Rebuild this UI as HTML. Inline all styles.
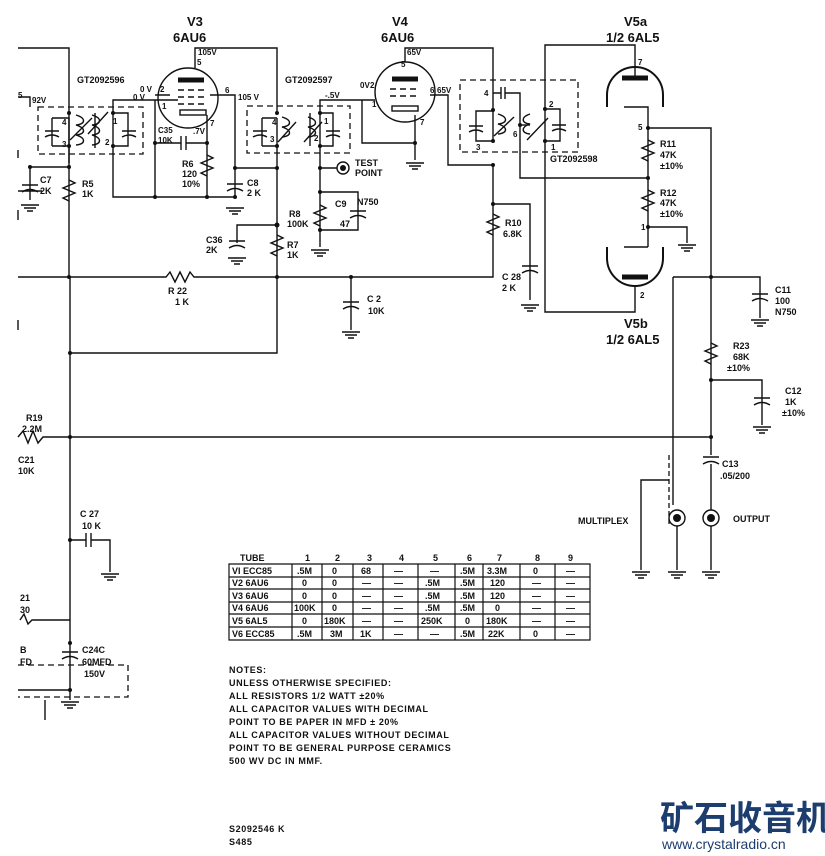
<!DOCTYPE html>
<html><head><meta charset="utf-8"><style>
html,body{margin:0;padding:0;background:#fff;}
svg{display:block;}
text{font-family:"Liberation Sans",sans-serif;fill:#111;font-weight:bold;}
.s{font-size:8px;}
.m{font-size:9px;}
.l{font-size:13px;}
.w{stroke:#111;stroke-width:1.4;fill:none;}
.d{stroke:#111;stroke-width:1.3;fill:none;stroke-dasharray:6,4;}
.n{fill:#111;}
</style></head><body>
<svg width="825" height="856" viewBox="0 0 825 856" xmlns="http://www.w3.org/2000/svg">
<defs>
<g id="gnd"><path class="w" d="M-9,0h18M-6,3h12M-3,6h6"/></g>
<g id="capv"><path class="w" d="M-8,-2h16M-8,5q8,-5 16,0"/></g>
</defs>

<!-- Tube labels -->
<text x="187" y="26" class="l">V3</text><text x="173" y="42" class="l">6AU6</text>
<text x="392" y="26" class="l">V4</text><text x="381" y="42" class="l">6AU6</text>
<text x="624" y="26" class="l">V5a</text><text x="606" y="42" class="l">1/2 6AL5</text>
<text x="624" y="328" class="l">V5b</text><text x="606" y="344" class="l">1/2 6AL5</text>

<!-- top left wire -->
<path class="w" d="M18,48H69V163"/>
<path class="w" d="M18,97H30V107"/>
<text x="18" y="98" class="s">5</text><text x="32" y="103" class="s">92V</text>

<!-- GT2092596 box -->
<text x="77" y="83" class="m">GT2092596</text>
<rect x="38" y="107" width="105" height="47" class="d"/>
<path class="w" d="M52,118h17M52,146h17M52,118v28M69,118v28M95,113v35"/>
<path class="w" d="M45,131h14M45,137q7,-4 14,0"/>
<path class="w" d="M76,115c10,3 10,9 0,10c10,3 10,9 0,10c10,3 10,9 0,10"/>
<path class="w" d="M92,115c10,3 10,9 0,10c10,3 10,9 0,10c10,3 10,9 0,10"/>
<path class="w" d="M70,140L92,118M88,134L108,112"/>
<path class="w" d="M113,113h15v33h-15M113,113v33M122,131h14M122,137q7,-4 14,0"/>
<text x="62" y="125" class="s">4</text><text x="62" y="147" class="s">3</text>
<text x="113" y="124" class="s">1</text><text x="105" y="145" class="s">2</text>
<circle cx="69" cy="113" r="2" class="n"/><circle cx="69" cy="146" r="2" class="n"/>
<circle cx="113" cy="113" r="2" class="n"/><circle cx="113" cy="146" r="2" class="n"/>
<path class="w" d="M69,146V277M30,167H69"/>
<circle cx="69" cy="167" r="2" class="n"/><circle cx="30" cy="167" r="2" class="n"/>
<path class="w" d="M69,180l6,3l-12,5l12,5l-12,5l6,3"/>
<text x="82" y="187" class="m">R5</text><text x="82" y="197" class="m">1K</text>
<path class="w" d="M30,167V200"/><use href="#capv" x="30" y="187"/><use href="#gnd" x="30" y="205"/>
<path class="w" d="M18,191h24"/>
<text x="40" y="183" class="m">C7</text><text x="40" y="194" class="m">2K</text>

<!-- V3 -->
<circle cx="188" cy="98" r="30" class="w"/>
<path class="w" d="M178,80h26" style="stroke-width:5"/>
<path class="w" d="M178,90h6M188,90h6M198,90h6M178,97h6M188,97h6M198,97h6M178,104h6M188,104h6M198,104h6"/>
<rect x="180" y="110" width="26" height="5" class="w"/>
<path class="w" d="M195,68V48H277V113"/>
<text x="198" y="55" class="s">105V</text><text x="197" y="65" class="s">5</text>
<path class="w" d="M113,113V100H178M155,95H170"/>
<text x="140" y="92" class="s">0 V</text><text x="160" y="92" class="s">2</text>
<text x="133" y="100" class="s">0 V</text><text x="162" y="109" class="s">1</text>
<path class="w" d="M210,95H235V197"/>
<text x="225" y="93" class="s">6</text><text x="238" y="100" class="s">105 V</text>
<path class="w" d="M207,115V197M155,100V197M113,146V197H235"/>
<circle cx="155" cy="143" r="2" class="n"/><circle cx="207" cy="143" r="2" class="n"/>
<circle cx="155" cy="197" r="2" class="n"/><circle cx="207" cy="197" r="2" class="n"/><circle cx="235" cy="197" r="2" class="n"/>
<path class="w" d="M155,143H181M181,136v14M186,136v14M186,143H207"/>
<text x="158" y="133" class="s">C35</text><text x="158" y="143" class="s">10K</text>
<text x="193" y="134" class="s">.7V</text><text x="210" y="126" class="s">7</text>
<path class="w" d="M207,155l6,3l-12,5l12,5l-12,5l6,3"/>
<text x="182" y="167" class="m">R6</text><text x="182" y="177" class="m">120</text><text x="182" y="187" class="m">10%</text>
<path class="w" d="M235,168H277"/><circle cx="235" cy="168" r="2" class="n"/><circle cx="277" cy="168" r="2" class="n"/>
<use href="#capv" x="235" y="186"/><use href="#gnd" x="235" y="208"/>
<text x="247" y="186" class="m">C8</text><text x="247" y="196" class="m">2 K</text>

<!-- GT2092597 -->
<text x="285" y="83" class="m">GT2092597</text>
<rect x="247" y="106" width="103" height="47" class="d"/>
<path class="w" d="M262,118h15M262,146h15M262,118v28M277,118v28M310,113v33"/>
<path class="w" d="M253,131h14M253,137q7,-4 14,0"/>
<path class="w" d="M282,117c10,3 10,9 0,10c10,3 10,9 0,10"/>
<path class="w" d="M308,117c10,3 10,9 0,10c10,3 10,9 0,10"/>
<path class="w" d="M278,142L296,122M304,142L322,122"/>
<path class="w" d="M320,113h13v33h-13M320,113v33M326,131h14M326,137q7,-4 14,0"/>
<text x="272" y="125" class="s">4</text><text x="270" y="142" class="s">3</text>
<text x="324" y="124" class="s">1</text><text x="314" y="141" class="s">2</text>
<circle cx="277" cy="113" r="2" class="n"/><circle cx="277" cy="146" r="2" class="n"/>
<circle cx="320" cy="113" r="2" class="n"/><circle cx="320" cy="146" r="2" class="n"/>
<path class="w" d="M320,113V100H375"/><text x="325" y="98" class="s">-.5V</text>
<path class="w" d="M277,146V353H70"/>
<path class="w" d="M320,146V247M320,168H337M320,192H358V230H320"/>
<circle cx="320" cy="168" r="2" class="n"/><circle cx="320" cy="192" r="2" class="n"/><circle cx="320" cy="230" r="2" class="n"/>
<circle cx="343" cy="168" r="6" class="w"/><circle cx="343" cy="168" r="3" class="n"/>
<text x="355" y="166" class="m">TEST</text><text x="355" y="176" class="m">POINT</text>
<path class="w" d="M320,205l6,3l-12,5l12,5l-12,5l6,3"/>
<text x="289" y="217" class="m">R8</text><text x="287" y="227" class="m">100K</text>
<path class="w" d="M350,211h16M350,218q8,-5 16,0"/>
<text x="335" y="207" class="m">C9</text><text x="357" y="205" class="m">N750</text><text x="340" y="227" class="m">47</text>
<use href="#gnd" x="320" y="250"/>
<circle cx="277" cy="225" r="2.5" class="n"/><path class="w" d="M277,225H237V243"/>
<use href="#capv" x="237" y="243"/><use href="#gnd" x="237" y="258"/>
<text x="206" y="243" class="m">C36</text><text x="206" y="253" class="m">2K</text>
<path class="w" d="M277,235l6,3l-12,5l12,5l-12,5l6,3"/>
<text x="287" y="248" class="m">R7</text><text x="287" y="258" class="m">1K</text>

<!-- R22 line -->
<path class="w" d="M18,277H166l4,-5l5,10l5,-10l5,10l5,-10l4,5H493V165"/>
<circle cx="69" cy="277" r="2" class="n"/><circle cx="277" cy="277" r="2" class="n"/><circle cx="351" cy="277" r="2" class="n"/>
<text x="168" y="294" class="m">R 22</text><text x="175" y="305" class="m">1 K</text>
<path class="w" d="M351,277V330"/><use href="#capv" x="351" y="304"/><use href="#gnd" x="351" y="332"/>
<text x="367" y="302" class="m">C 2</text><text x="368" y="314" class="m">10K</text>

<!-- V4 -->
<circle cx="405" cy="92" r="30" class="w"/>
<path class="w" d="M392,79h26" style="stroke-width:5"/>
<path class="w" d="M390,89h6M400,89h6M410,89h6M390,96h6M400,96h6M410,96h6"/>
<rect x="392" y="106" width="26" height="5" class="w"/>
<path class="w" d="M405,62V48H493V110"/>
<text x="407" y="55" class="s">65V</text><text x="401" y="67" class="s">5</text>
<text x="360" y="88" class="s">0V</text><text x="370" y="88" class="s">2</text><text x="372" y="107" class="s">1</text>
<path class="w" d="M362,100V143H415M415,115V160"/><circle cx="415" cy="143" r="2" class="n"/>
<text x="420" y="125" class="s">7</text><use href="#gnd" x="415" y="163"/>
<path class="w" d="M430,95H448V165H493"/>
<text x="430" y="93" class="s">6</text><text x="437" y="93" class="s">65V</text>
<circle cx="493" cy="165" r="2" class="n"/><circle cx="493" cy="204" r="2" class="n"/>
<path class="w" d="M493,214l6,3l-12,5l12,5l-12,5l6,3"/>
<text x="505" y="226" class="m">R10</text><text x="503" y="237" class="m">6.8K</text>
<path class="w" d="M493,204H530V300"/><use href="#capv" x="530" y="268"/><use href="#gnd" x="530" y="305"/>
<text x="502" y="280" class="m">C 28</text><text x="502" y="291" class="m">2 K</text>

<!-- GT2092598 -->
<rect x="460" y="80" width="118" height="72" class="d"/>
<path class="w" d="M493,93h8M501,87v12M505,87v12M505,93h15V178H648"/>
<text x="484" y="96" class="s">4</text>
<path class="w" d="M476,111h17v30h-17zM469,126h14M469,132q7,-4 14,0"/>
<path class="w" d="M498,114c10,3 10,9 0,10c10,3 10,9 0,10"/>
<path class="w" d="M494,136L514,117"/>
<path class="w" d="M520,125h10"/><circle cx="520" cy="125" r="2" class="n"/>
<text x="513" y="137" class="s">6</text><text x="476" y="150" class="s">3</text>
<path class="w" d="M530,114c-9,3 -9,9 0,10c-9,3 -9,9 0,10"/>
<path class="w" d="M527,140L548,118"/>
<path class="w" d="M545,109h15v32h-15M545,109v32M552,125h14M552,131q7,-4 14,0"/>
<circle cx="545" cy="109" r="2" class="n"/><circle cx="545" cy="141" r="2" class="n"/>
<circle cx="493" cy="110" r="2" class="n"/><circle cx="493" cy="141" r="2" class="n"/>
<text x="549" y="107" class="s">2</text><text x="551" y="150" class="s">1</text>
<text x="550" y="162" class="m">GT2092598</text>

<!-- V5 -->
<path class="w" d="M545,109V45H635V78M545,141V312H635V287"/>
<path class="w" d="M607,107V95a28,28 0 0 1 56,0V107" style="stroke-width:2"/>
<path class="w" d="M622,78h26" style="stroke-width:5"/><text x="638" y="65" class="s">7</text>
<path class="w" d="M624,107h24V128M648,128V247M624,247h24"/>
<path class="w" d="M607,247V258a28,28 0 0 0 56,0V247" style="stroke-width:2"/>
<path class="w" d="M622,277h26" style="stroke-width:5"/><text x="640" y="298" class="s">2</text>
<circle cx="648" cy="128" r="2" class="n"/><circle cx="648" cy="178" r="2" class="n"/><circle cx="648" cy="227" r="2" class="n"/>
<text x="638" y="130" class="s">5</text><text x="641" y="230" class="s">1</text>
<path class="w" d="M648,140l6,3l-12,5l12,5l-12,5l6,3"/>
<path class="w" d="M648,190l6,3l-12,5l12,5l-12,5l6,3"/>
<text x="660" y="147" class="m">R11</text><text x="660" y="158" class="m">47K</text><text x="660" y="169" class="m">±10%</text>
<text x="660" y="196" class="m">R12</text><text x="660" y="206" class="m">47K</text><text x="660" y="217" class="m">±10%</text>
<path class="w" d="M648,227H687V243"/><use href="#gnd" x="687" y="245"/>
<path class="w" d="M648,128H711V437"/>
<circle cx="711" cy="277" r="2" class="n"/>
<path class="w" d="M673,277H760V318M673,277V505"/>
<use href="#capv" x="760" y="296"/><use href="#gnd" x="760" y="320"/>
<text x="775" y="293" class="m">C11</text><text x="775" y="304" class="m">100</text><text x="775" y="315" class="m">N750</text>
<path class="w" d="M711,343l6,3l-12,5l12,5l-12,5l6,3"/>
<text x="733" y="349" class="m">R23</text><text x="733" y="360" class="m">68K</text><text x="727" y="371" class="m">±10%</text>
<circle cx="711" cy="380" r="2" class="n"/><path class="w" d="M711,380H762V425"/>
<use href="#capv" x="762" y="400"/><use href="#gnd" x="762" y="427"/>
<text x="785" y="394" class="m">C12</text><text x="785" y="405" class="m">1K</text><text x="782" y="416" class="m">±10%</text>

<!-- R19 line -->
<path class="w" d="M18,437l5,-6l5,12l5,-12l5,12l5,-6H711V455"/>
<circle cx="711" cy="437" r="2" class="n"/><circle cx="70" cy="437" r="2" class="n"/>
<text x="26" y="421" class="m">R19</text><text x="22" y="432" class="m">2.2M</text>
<text x="18" y="463" class="m">C21</text><text x="18" y="474" class="m">10K</text>
<path class="w" d="M703,457h16M703,464q8,-5 16,0M711,464V510"/>
<text x="722" y="467" class="m">C13</text><text x="720" y="479" class="m">.05/200</text>

<!-- jacks -->
<circle cx="677" cy="518" r="8" class="w"/><circle cx="677" cy="518" r="4" class="n"/>
<circle cx="711" cy="518" r="8" class="w"/><circle cx="711" cy="518" r="4" class="n"/>
<path class="w" d="M677,526V570M711,526V570"/><use href="#gnd" x="677" y="572"/><use href="#gnd" x="711" y="572"/>
<path class="d" d="M669,455V525" style="stroke-dasharray:5,3"/>
<path class="w" d="M669,480H641V570"/><use href="#gnd" x="641" y="572"/>
<text x="578" y="524" class="m">MULTIPLEX</text><text x="733" y="522" class="m">OUTPUT</text>

<!-- left vertical -->
<path class="w" d="M70,277V700"/><circle cx="70" cy="353" r="2" class="n"/>
<circle cx="70" cy="540" r="2" class="n"/>
<path class="w" d="M70,540H86M86,533v14M91,533v14M91,540H110V572"/><use href="#gnd" x="110" y="574"/>
<text x="80" y="517" class="m">C 27</text><text x="82" y="529" class="m">10 K</text>
<text x="20" y="601" class="m">21</text><text x="20" y="613" class="m">30</text>
<path class="w" d="M20,620l4,-6l4,10l4,-4H70"/><circle cx="70" cy="643" r="2" class="n"/>
<path class="d" d="M18,665H128V697H18"/>
<path class="w" d="M62,652h16M62,659q8,-5 16,0"/>
<text x="82" y="653" class="m">C24C</text><text x="82" y="665" class="m">60MFD</text><text x="84" y="677" class="m">150V</text>
<text x="20" y="653" class="m">B</text><text x="20" y="665" class="m">FD</text>
<circle cx="70" cy="690" r="2" class="n"/><path class="w" d="M18,690H70M45,700V720"/>
<use href="#gnd" x="70" y="702"/>
<path class="w" d="M18,150V158M18,210V220M18,320V330"/>

<!-- table -->
<g style="font-size:9px">
<text x="240" y="561" class="m">TUBE</text>
<text x="305" y="561">1</text><text x="335" y="561">2</text><text x="367" y="561">3</text><text x="399" y="561">4</text><text x="433" y="561">5</text><text x="467" y="561">6</text><text x="497" y="561">7</text><text x="535" y="561">8</text><text x="568" y="561">9</text>
</g>
<path class="w" style="stroke-width:1.2" d="M229,564H590V640H229ZM229,577H590M229,589H590M229,602H590M229,614H590M229,627H590M292,564V640M322,564V640M353,564V640M383,564V640M418,564V640M455,564V640M483,564V640M520,564V640M555,564V640"/>
<g class="m">
<text x="232" y="574" class="m">VI  ECC85</text><text x="297" y="574" class="m">.5M</text><text x="332" y="574" class="m">0</text><text x="361" y="574" class="m">68</text><text x="394" y="574" class="m">—</text><text x="430" y="574" class="m">—</text><text x="460" y="574" class="m">.5M</text><text x="487" y="574" class="m">3.3M</text><text x="533" y="574" class="m">0</text><text x="566" y="574" class="m">—</text>
<text x="232" y="586" class="m">V2  6AU6</text><text x="302" y="586" class="m">0</text><text x="332" y="586" class="m">0</text><text x="362" y="586" class="m">—</text><text x="394" y="586" class="m">—</text><text x="425" y="586" class="m">.5M</text><text x="460" y="586" class="m">.5M</text><text x="490" y="586" class="m">120</text><text x="532" y="586" class="m">—</text><text x="566" y="586" class="m">—</text>
<text x="232" y="599" class="m">V3  6AU6</text><text x="302" y="599" class="m">0</text><text x="332" y="599" class="m">0</text><text x="362" y="599" class="m">—</text><text x="394" y="599" class="m">—</text><text x="425" y="599" class="m">.5M</text><text x="460" y="599" class="m">.5M</text><text x="490" y="599" class="m">120</text><text x="532" y="599" class="m">—</text><text x="566" y="599" class="m">—</text>
<text x="232" y="611" class="m">V4  6AU6</text><text x="294" y="611" class="m">100K</text><text x="332" y="611" class="m">0</text><text x="362" y="611" class="m">—</text><text x="394" y="611" class="m">—</text><text x="425" y="611" class="m">.5M</text><text x="460" y="611" class="m">.5M</text><text x="495" y="611" class="m">0</text><text x="532" y="611" class="m">—</text><text x="566" y="611" class="m">—</text>
<text x="232" y="624" class="m">V5  6AL5</text><text x="302" y="624" class="m">0</text><text x="324" y="624" class="m">180K</text><text x="362" y="624" class="m">—</text><text x="394" y="624" class="m">—</text><text x="421" y="624" class="m">250K</text><text x="465" y="624" class="m">0</text><text x="486" y="624" class="m">180K</text><text x="532" y="624" class="m">—</text><text x="566" y="624" class="m">—</text>
<text x="232" y="637" class="m">V6  ECC85</text><text x="297" y="637" class="m">.5M</text><text x="330" y="637" class="m">3M</text><text x="360" y="637" class="m">1K</text><text x="394" y="637" class="m">—</text><text x="430" y="637" class="m">—</text><text x="460" y="637" class="m">.5M</text><text x="488" y="637" class="m">22K</text><text x="533" y="637" class="m">0</text><text x="566" y="637" class="m">—</text>
</g>

<!-- notes -->
<g style="font-size:9px;letter-spacing:0.6px">
<text x="229" y="673">NOTES:</text>
<text x="229" y="686">UNLESS OTHERWISE SPECIFIED:</text>
<text x="229" y="699">ALL RESISTORS 1/2 WATT ±20%</text>
<text x="229" y="712">ALL CAPACITOR VALUES WITH DECIMAL</text>
<text x="229" y="725">POINT TO BE PAPER IN MFD ± 20%</text>
<text x="229" y="738">ALL CAPACITOR VALUES WITHOUT DECIMAL</text>
<text x="229" y="751">POINT TO BE GENERAL PURPOSE CERAMICS</text>
<text x="229" y="764">500 WV DC IN MMF.</text>
<text x="229" y="832">S2092546 K</text>
<text x="229" y="845">S485</text>
</g>

<!-- watermark -->
<text x="660" y="830" style="font-family:'Liberation Sans','Noto Sans CJK SC',sans-serif;font-size:34px;fill:#1d3d6e;font-weight:bold">矿石收音机</text>
<text x="662" y="849" style="font-size:14px;fill:#1d3d6e;font-weight:normal">www.crystalradio.cn</text>
</svg>
</body></html>
